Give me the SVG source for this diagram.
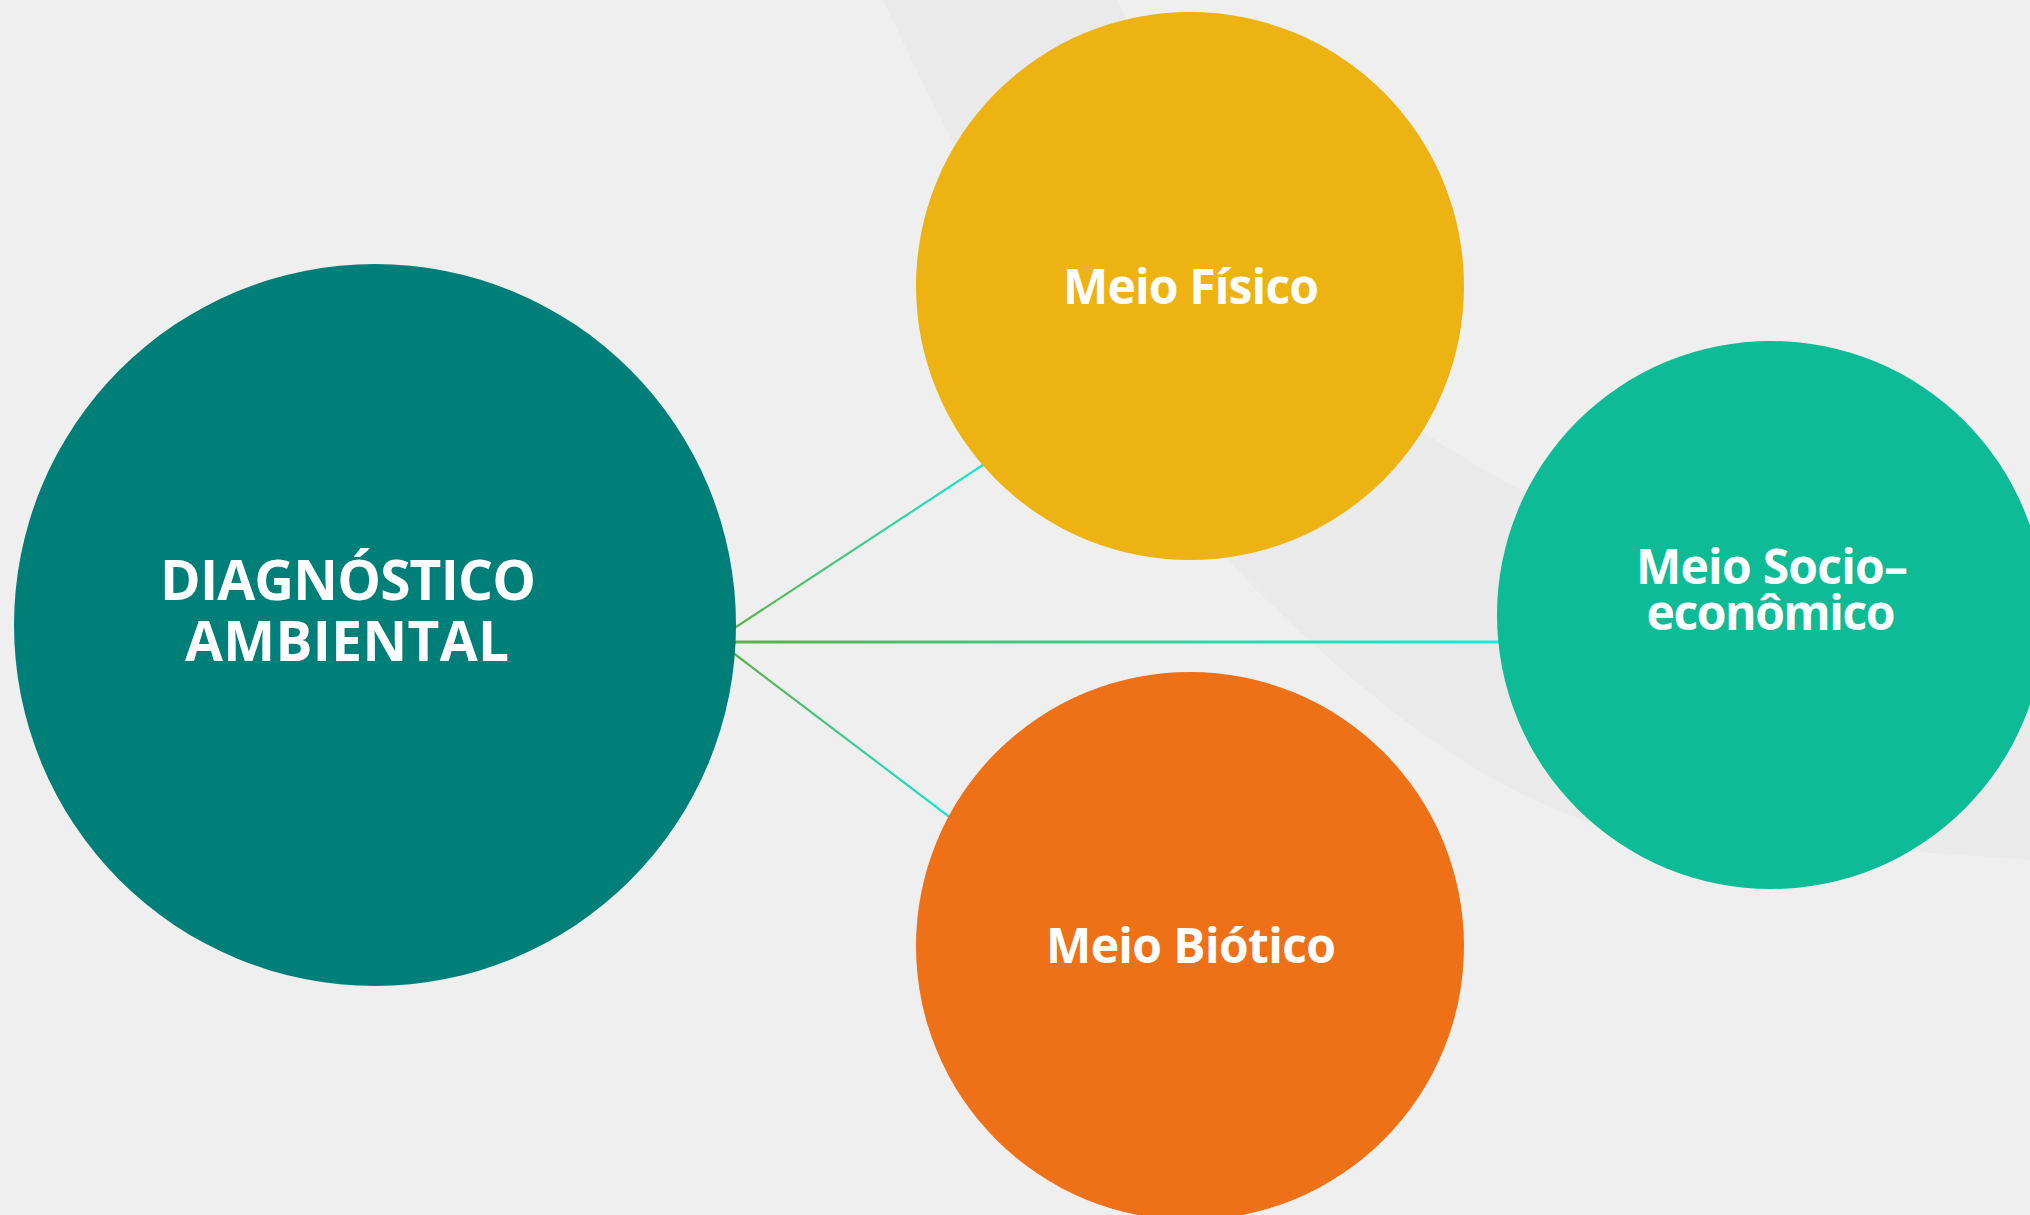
<svg xmlns="http://www.w3.org/2000/svg" width="2030" height="1215" viewBox="0 0 2030 1215">
  <defs>
    <style>
      .label { font-family: "Open Sans", "Liberation Sans", sans-serif; font-weight: 700; fill: #ffffff; text-anchor: middle; }
      .title { font-size: 55px; }
      .sub { font-size: 48px; }
      .link { fill: none; stroke-linecap: butt; }
    </style>
    <linearGradient id="gUp" gradientUnits="userSpaceOnUse" x1="735" y1="628" x2="990" y2="461">
      <stop offset="0" stop-color="#5fb14c"/>
      <stop offset="1" stop-color="#1ae5d6"/>
    </linearGradient>
    <linearGradient id="gMid" gradientUnits="userSpaceOnUse" x1="735" y1="642" x2="1500" y2="642">
      <stop offset="0" stop-color="#5fb14c"/>
      <stop offset="1" stop-color="#1aeadc"/>
    </linearGradient>
    <linearGradient id="gLow" gradientUnits="userSpaceOnUse" x1="734" y1="653" x2="955" y2="821">
      <stop offset="0" stop-color="#5fb14c"/>
      <stop offset="1" stop-color="#1ae5d6"/>
    </linearGradient>
  </defs>

  <!-- page background -->
  <rect x="0" y="0" width="2030" height="1215" fill="#efefef"/>

  <!-- soft sweeping band behind the nodes -->
  <path d="M 883 0 L 1117 0 C 1200 170 1300 350 1423 432 C 1600 550 1800 610 2030 640 L 2030 860 C 1900 850 1700 840 1591 823 C 1480 785 1380 710 1274 607 C 1130 470 1000 250 883 0 Z" fill="#eaeaea"/>

  <!-- connectors -->
  <g id="connectors">
    <line class="link" x1="733" y1="629" x2="995" y2="457" stroke="url(#gUp)" stroke-width="2.2"/>
    <line class="link" x1="733" y1="642" x2="1500" y2="642" stroke="url(#gMid)" stroke-width="3"/>
    <line class="link" x1="732" y1="652" x2="960" y2="825" stroke="url(#gLow)" stroke-width="2.2"/>
  </g>

  <!-- central node -->
  <g id="node-diagnostico">
    <circle cx="375" cy="625" r="361" fill="#007f78"/>
    <text class="label title" x="348" y="600" textLength="376" lengthAdjust="spacing">DIAGNÓSTICO</text>
    <text class="label title" x="347" y="661" textLength="324" lengthAdjust="spacing">AMBIENTAL</text>
  </g>

  <!-- physical environment -->
  <g id="node-fisico">
    <circle cx="1190" cy="286" r="274" fill="#edb313"/>
    <text class="label sub" x="1191" y="304" textLength="256" lengthAdjust="spacing">Meio Físico</text>
  </g>

  <!-- socio-economic environment -->
  <g id="node-socio">
    <circle cx="1771" cy="615" r="274" fill="#0dbb96"/>
    <text class="label sub" x="1772" y="584" textLength="272" lengthAdjust="spacing">Meio Socio–</text>
    <text class="label sub" x="1771" y="630" textLength="249" lengthAdjust="spacing">econômico</text>
  </g>

  <!-- biotic environment -->
  <g id="node-biotico">
    <circle cx="1190" cy="946" r="274" fill="#ee7017"/>
    <text class="label sub" x="1191" y="963" textLength="290" lengthAdjust="spacing">Meio Biótico</text>
  </g>
</svg>
